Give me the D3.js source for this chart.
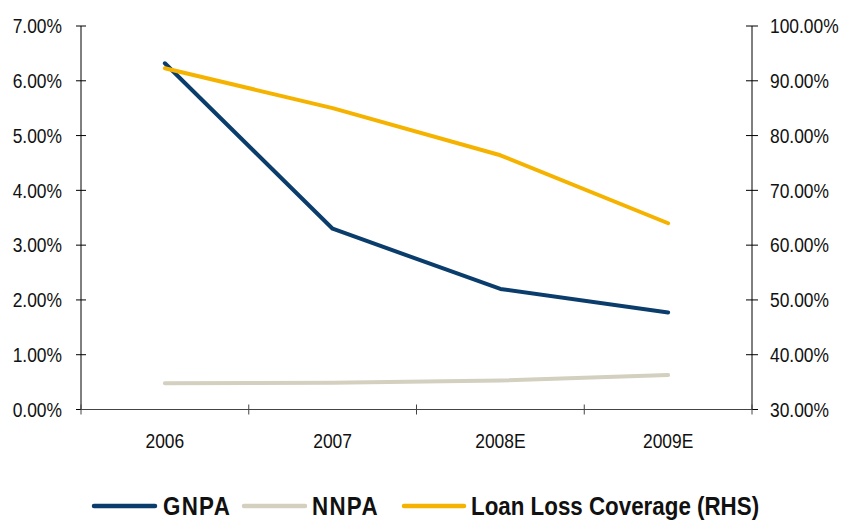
<!DOCTYPE html>
<html>
<head>
<meta charset="utf-8">
<script src="https://cdn.jsdelivr.net/npm/d3@7"></script>
<style>
  html, body { margin: 0; padding: 0; background: #fff; }
  svg { display: block; }
  .lbl { font-family: "Liberation Sans", Arial, sans-serif; fill: #111; }
</style>
</head>
<body>
<svg id="chart" width="845" height="521"></svg>
<script>
// Asset quality data by year
const years = ["2006", "2007", "2008E", "2009E"];
const gnpa = [0.0632, 0.0330, 0.0220, 0.0177];
const nnpa = [0.0048, 0.0049, 0.0053, 0.0063];
const loanLossCoverage = [0.923, 0.850, 0.764, 0.640];
const leftTicks = [0, 0.01, 0.02, 0.03, 0.04, 0.05, 0.06, 0.07];
const rightTicks = [0.3, 0.4, 0.5, 0.6, 0.7, 0.8, 0.9, 1.0];
const seriesNames = ["GNPA", "NNPA", "Loan Loss Coverage (RHS)"];

const colors = { gnpa: "#0b3d6c", nnpa: "#d3d0bf", llc: "#f5b300" };

const svg = d3.select("#chart");
const plotLeft = 81, plotRight = 752, plotTop = 26, plotBottom = 409.5;

const x = d3.scaleBand().domain(years).range([plotLeft, plotRight]);
const yL = d3.scaleLinear().domain([0, 0.07]).range([plotBottom, plotTop]);
const yR = d3.scaleLinear().domain([0.3, 1.0]).range([plotBottom, plotTop]);
const fmt = d3.format(".2%");

// Condensed-looking labels: horizontally compressed text
const tickSize = 20, tickSquash = 0.87;
function placeText(sel, fx, fy, squash) {
  sel.attr("transform", (d, i) => `translate(${fx(d, i)},${fy(d, i)}) scale(${squash},1)`);
}

// Left axis with cross ticks
const gL = svg.append("g").attr("transform", `translate(${plotLeft},0)`);
gL.append("line").attr("y1", plotTop).attr("y2", plotBottom).attr("stroke", "#000");
gL.selectAll("line.t").data(leftTicks).join("line").attr("class", "t")
  .attr("x1", -5).attr("x2", 5).attr("y1", d => yL(d)).attr("y2", d => yL(d)).attr("stroke", "#000");
gL.selectAll("text").data(leftTicks).join("text").attr("class", "lbl")
  .call(placeText, () => -19, d => yL(d), tickSquash).attr("dy", "0.36em")
  .attr("text-anchor", "end").attr("font-size", tickSize).text(fmt);

// Right axis with cross ticks
const gR = svg.append("g").attr("transform", `translate(${plotRight},0)`);
gR.append("line").attr("y1", plotTop).attr("y2", plotBottom).attr("stroke", "#000");
gR.selectAll("line.t").data(rightTicks).join("line").attr("class", "t")
  .attr("x1", -6).attr("x2", 6).attr("y1", d => yR(d)).attr("y2", d => yR(d)).attr("stroke", "#000");
gR.selectAll("text").data(rightTicks).join("text").attr("class", "lbl")
  .call(placeText, () => 18, d => yR(d), tickSquash).attr("dy", "0.36em")
  .attr("text-anchor", "start").attr("font-size", tickSize).text(fmt);

// Category axis: ticks at band boundaries, labels centred in bands
const gB = svg.append("g");
gB.append("line").attr("x1", plotLeft).attr("x2", plotRight).attr("y1", plotBottom).attr("y2", plotBottom).attr("stroke", "#444");
const edges = years.map(d => x(d)).concat([plotRight]);
gB.selectAll("line.t").data(edges).join("line").attr("class", "t")
  .attr("x1", d => d).attr("x2", d => d).attr("y1", plotBottom - 5).attr("y2", plotBottom + 5).attr("stroke", "#444");
gB.selectAll("text").data(years).join("text").attr("class", "lbl")
  .call(placeText, d => x(d) + x.bandwidth() / 2, () => 441, tickSquash).attr("dy", "0.36em")
  .attr("text-anchor", "middle").attr("font-size", tickSize).text(d => d);

const cx = d => x(d) + x.bandwidth() / 2;
function drawLine(vals, scale, color) {
  const line = d3.line().x((d, i) => cx(years[i])).y(d => scale(d));
  svg.append("path").datum(vals).attr("d", line).attr("fill", "none")
    .attr("stroke", color).attr("stroke-width", 4).attr("stroke-linejoin", "round").attr("stroke-linecap", "round");
}
drawLine(nnpa, yL, colors.nnpa);
drawLine(gnpa, yL, colors.gnpa);
drawLine(loanLossCoverage, yR, colors.llc);

// Legend
const legend = [
  { name: seriesNames[0], color: colors.gnpa, x1: 94, x2: 155, tx: 163, ls: 1.5 },
  { name: seriesNames[1], color: colors.nnpa, x1: 244, x2: 305, tx: 312, ls: 1.5 },
  { name: seriesNames[2], color: colors.llc, x1: 404, x2: 464, tx: 471, ls: 0 }
];
const legendY = 506;
const gLeg = svg.append("g");
legend.forEach(l => {
  gLeg.append("line").attr("x1", l.x1).attr("x2", l.x2).attr("y1", legendY).attr("y2", legendY)
    .attr("stroke", l.color).attr("stroke-width", 4.5).attr("stroke-linecap", "round");
  gLeg.append("text").attr("class", "lbl")
    .attr("transform", `translate(${l.tx},${legendY}) scale(0.86,1)`).attr("dy", "0.35em")
    .attr("font-size", 26).attr("font-weight", "bold").attr("letter-spacing", l.ls)
    .attr("fill", "#111").text(l.name);
});
</script>
</body>
</html>
